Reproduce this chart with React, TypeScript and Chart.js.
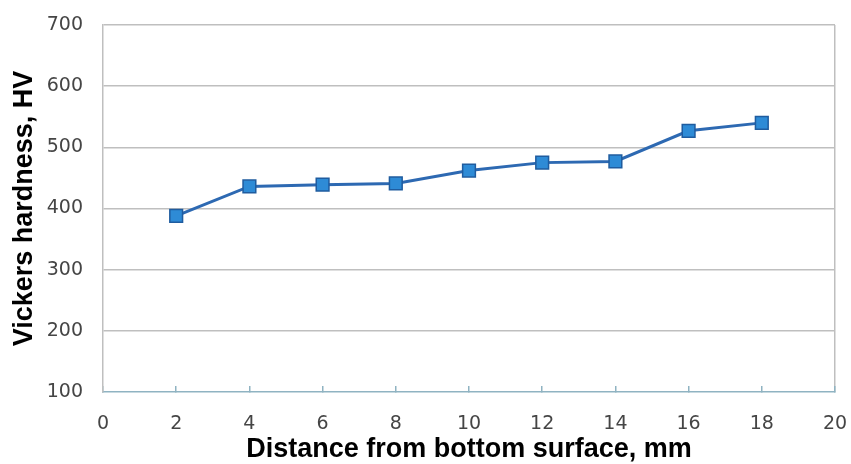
import React, { useEffect, useRef } from "react";
import { Chart, registerables } from "chart.js";

Chart.register(...registerables);

const distances = [2, 4, 6, 8, 10, 12, 14, 16, 18];
const hardness = [388, 436, 439, 441, 462, 475, 477, 527, 540];
const xTitle = "Distance from bottom surface, mm";
const yTitle = "Vickers hardness, HV";

export default function App() {
  const ref = useRef<HTMLCanvasElement | null>(null);
  useEffect(() => {
    document.body.style.margin = "0";
    const ctx = ref.current!.getContext("2d")!;
    const chart = new Chart(ctx, {
      type: "line",
      data: {
        datasets: [
          {
            data: distances.map((d, i) => ({ x: d, y: hardness[i] })),
            borderColor: "#2d69b2",
            borderWidth: 3,
            pointStyle: "rect",
            pointRadius: 9,
            pointBackgroundColor: "#2e8bd6",
            pointBorderColor: "#1f5c9f",
            pointBorderWidth: 1.5,
            tension: 0,
          },
        ],
      },
      options: {
        animation: false,
        responsive: false,
        layout: { padding: { top: 25, right: 16, left: 0, bottom: 0 } },
        plugins: { legend: { display: false }, tooltip: { enabled: false } },
        scales: {
          x: {
            type: "linear",
            min: 0,
            max: 20,
            ticks: {
              stepSize: 2,
              color: "#454545",
              font: { family: "DejaVu Sans", size: 19 },
              padding: 27,
            },
            grid: {
              drawOnChartArea: true,
              color: (c: any) => (c.tick && c.tick.value === 20 ? "#bfbfbf" : "rgba(0,0,0,0)"),
              tickColor: "#8fb3c2",
              tickLength: -6,
              lineWidth: 1.5,
            },
            border: { color: "#8fb3c2", width: 1.5 },
            title: {
              display: true,
              text: xTitle,
              color: "#000",
              font: { family: "Liberation Sans", size: 27, weight: "bold" },
              padding: { top: 0, bottom: -2 },
            },
            afterFit: (s: any) => {
              s.height = 72;
              s.paddingLeft = 0;
              s.paddingRight = 0;
            },
          },
          y: {
            min: 100,
            max: 700,
            ticks: {
              stepSize: 100,
              color: "#454545",
              font: { family: "DejaVu Sans", size: 19 },
              padding: 20,
            },
            grid: {
              color: (c: any) => (c.tick && c.tick.value === 100 ? "rgba(0,0,0,0)" : "#bfbfbf"),
              drawTicks: false,
              lineWidth: 1.5,
            },
            border: { color: "#bfbfbf", width: 1.5 },
            title: {
              display: true,
              text: yTitle,
              color: "#000",
              font: { family: "Liberation Sans", size: 27, weight: "bold" },
              padding: { top: 8, bottom: 0 },
            },
            afterFit: (s: any) => {
              s.width = 103;
              s.paddingTop = 0;
              s.paddingBottom = 0;
            },
          },
        },
      },
    });
    return () => chart.destroy();
  }, []);
  return (
    <div style={{ width: 851, height: 464 }}>
      <canvas ref={ref} width={851} height={464} style={{ width: 851, height: 464 }} />
    </div>
  );
}
